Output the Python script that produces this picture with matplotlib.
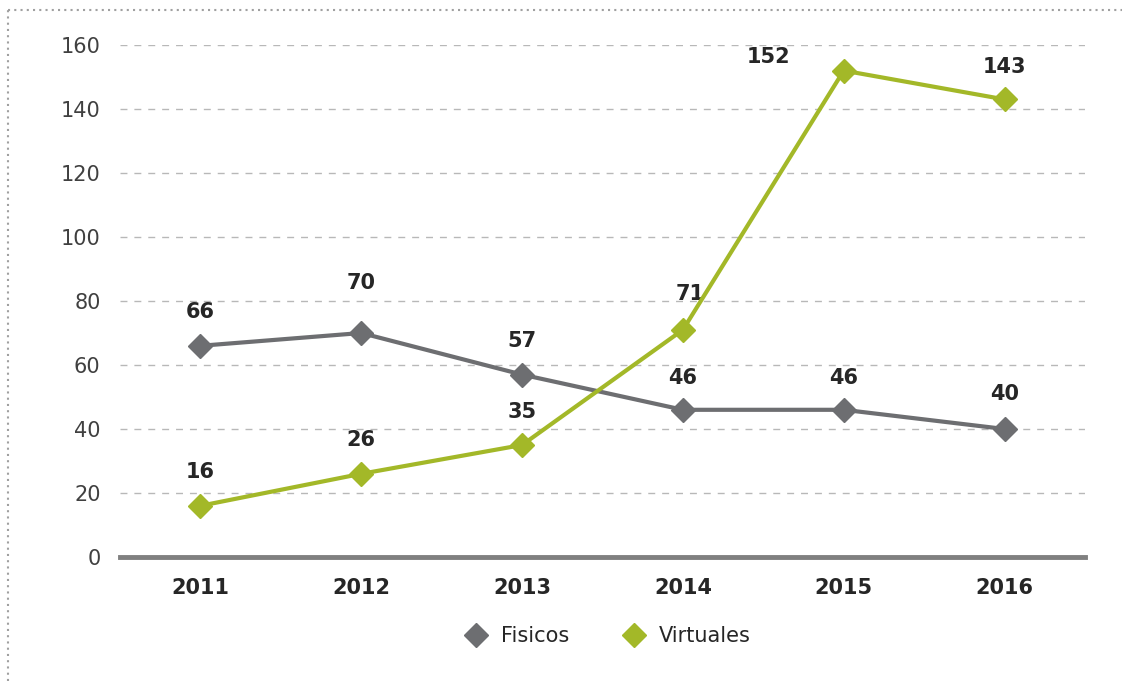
import matplotlib.pyplot as plt
from matplotlib.lines import Line2D

years = ['2011', '2012', '2013', '2014', '2015', '2016']
fisicos = [66, 70, 57, 46, 46, 40]
virtuales = [16, 26, 35, 71, 152, 143]

gris = '#6d6e71'
verde = '#a3b828'

fig = plt.figure(figsize=(11.22, 6.81), dpi=100)
ax = fig.add_axes([120 / 1122, 1 - 557 / 681, (1085 - 120) / 1122, (557 - 45) / 681])

x = list(range(len(years)))
ax.plot(x, fisicos, color=gris, lw=3, marker='D', ms=12, label='Fisicos', zorder=3)
ax.plot(x, virtuales, color=verde, lw=3, marker='D', ms=12, label='Virtuales', zorder=4)

# etiquetas de valores (desplazamiento en puntos)
off_f = [(0, 24), (0, 36), (0, 24), (0, 23), (0, 23), (0, 25)]
off_v = [(0, 24), (0, 24), (0, 24), (5, 26), (-54, 10), (0, 23)]
for i, v in enumerate(fisicos):
    ax.annotate(str(v), (i, v), xytext=off_f[i], textcoords='offset points',
                ha='center', va='center', fontsize=15, fontweight='bold', color='#262626')
for i, v in enumerate(virtuales):
    ax.annotate(str(v), (i, v), xytext=off_v[i], textcoords='offset points',
                ha='center', va='center', fontsize=15, fontweight='bold', color='#262626')

ax.set_xlim(-0.5, len(years) - 0.5)
ax.set_ylim(0, 160)
ax.set_yticks(range(0, 161, 20))
ax.set_xticks(x)
ax.set_xticklabels(years, fontsize=15, fontweight='bold', color='#262626')
ax.tick_params(axis='y', labelsize=15, labelcolor='#404040', length=0, pad=14)
ax.tick_params(axis='x', length=0, pad=15)
ax.grid(axis='y', color='#b8b8b8', ls=(0, (5, 5)), lw=1)
ax.set_axisbelow(True)
for s in ['top', 'right', 'left']:
    ax.spines[s].set_visible(False)
ax.spines['bottom'].set_color('#808080')
ax.spines['bottom'].set_linewidth(3.5)
ax.spines['bottom'].set_zorder(5)

leg = ax.legend(loc='center', bbox_to_anchor=(0.505, -0.155), ncol=2, frameon=False,
                fontsize=15, handlelength=1.2, columnspacing=2.5, handletextpad=0.6)
for h in leg.legend_handles:
    h.set_linestyle('none')
for t in leg.get_texts():
    t.set_color('#262626')

# borde punteado arriba e izquierda
fig.add_artist(Line2D([8 / 1122, 1], [1 - 10 / 681, 1 - 10 / 681], color='#a0a0a0',
                      lw=1.5, ls=(0, (1, 2))))
fig.add_artist(Line2D([8 / 1122, 8 / 1122], [0, 1 - 10 / 681], color='#a0a0a0',
                      lw=1.5, ls=(0, (1, 2))))

fig.savefig('out.png', dpi=100)
